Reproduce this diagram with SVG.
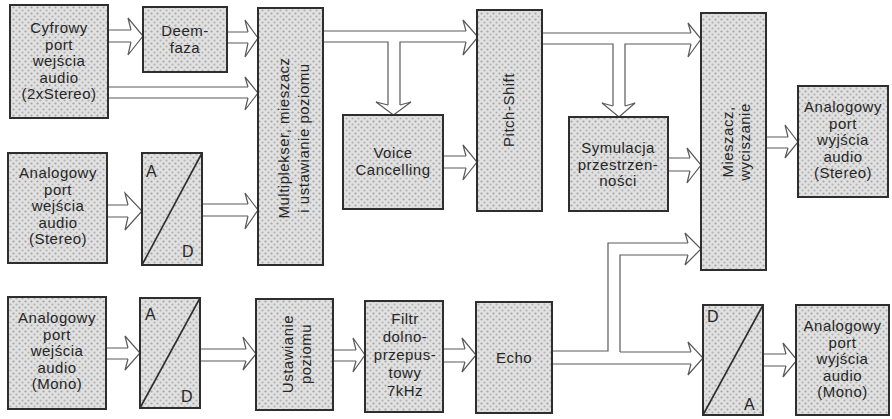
<svg xmlns="http://www.w3.org/2000/svg" width="892" height="419" viewBox="0 0 892 419">
<defs>
<pattern id="dots" width="6" height="6" patternUnits="userSpaceOnUse">
<rect width="6" height="6" fill="#e1e1e1"/>
<circle cx="1.5" cy="1.5" r="1.1" fill="#a5a5a5"/>
<circle cx="4.5" cy="4.5" r="1.1" fill="#b2b2b2"/>
</pattern>
<style>
.box{fill:url(#dots);stroke:#2e2e2e;stroke-width:2}
.diag{stroke:#2e2e2e;stroke-width:1.6;fill:none}
.t{font-family:"Liberation Sans",Arial,sans-serif;font-size:15px;letter-spacing:0.5px;fill:#262626;text-anchor:middle}
.l{font-family:"Liberation Sans",Arial,sans-serif;font-size:16px;fill:#262626}
.ln{stroke:#5a5a5a;stroke-width:1.2;fill:none}
.hd{stroke:#5a5a5a;stroke-width:1.2;fill:#fff;stroke-linejoin:miter}
</style>
</defs>
<rect width="892" height="419" fill="#fff"/>

<g id="connectors">
<path class="ln" d="M108,30H131M108,42H131"/>
<path class="hd" d="M131,30L128,18L143,36L128,55L131,42"/>
<path class="ln" d="M227,32H248M227,43H248"/>
<path class="hd" d="M248,32L245,20L258,38L245,57L248,43"/>
<path class="ln" d="M108,87H248M108,98H248"/>
<path class="hd" d="M248,87L245,77L258,93L245,110L248,98"/>
<path class="ln" d="M107,205H128M107,217H128"/>
<path class="hd" d="M128,205L125,193L142,211L125,230L128,217"/>
<path class="ln" d="M202,204H248M202,216H248"/>
<path class="hd" d="M248,204L245,193L258,210L245,229L248,216"/>
<path class="ln" d="M324,31H466M324,42H388V105M400,105V42H466"/>
<path class="hd" d="M466,31L463,20L478,37L463,55L466,42"/>
<path class="hd" d="M388,105L376,102L393.5,115L411,102L400,105"/>
<path class="ln" d="M443,156H466M443,168H466"/>
<path class="hd" d="M466,156L463,145L477,162L463,180L466,168"/>
<path class="ln" d="M542,33H691M542,44H613V106M625,106V44H691"/>
<path class="hd" d="M691,33L688,23L701,39L688,57L691,44"/>
<path class="hd" d="M613,106L602,103L619,117L635,103L625,106"/>
<path class="ln" d="M668,158H690M668,171H690"/>
<path class="hd" d="M690,158L687,148L701,165L687,183L690,171"/>
<path class="ln" d="M766,137H788M766,148H788"/>
<path class="hd" d="M788,137L785,125L798,142L785,158L788,148"/>
<path class="ln" d="M106,348H128M106,359H128"/>
<path class="hd" d="M128,348L125,336L140,353L125,370L128,359"/>
<path class="ln" d="M200,349H246M200,361H246"/>
<path class="hd" d="M246,349L243,337L256,354L243,370L246,361"/>
<path class="ln" d="M333,350H356M333,361H356"/>
<path class="hd" d="M356,350L353,338L365,355L353,372L356,361"/>
<path class="ln" d="M443,349H465M443,362H465"/>
<path class="hd" d="M465,349L462,338L476,355L462,372L465,362"/>
<path class="ln" d="M552,351H608V243H688M620,352V255H688M620,352H691M552,364H691"/>
<path class="hd" d="M688,243L685,233L701,249L685,265L688,255"/>
<path class="hd" d="M691,352L688,342L703,358L688,375L691,364"/>
<path class="ln" d="M763,354H786M763,366H786"/>
<path class="hd" d="M786,354L783,343L797,360L783,377L786,366"/>
</g>

<g id="cyfrowy">
<rect class="box" x="10" y="5" width="98" height="113"/>
<text class="t"><tspan x="59" y="33">Cyfrowy</tspan><tspan x="59" y="49.5">port</tspan><tspan x="59" y="66">wejścia</tspan><tspan x="59" y="82.5">audio</tspan><tspan x="59" y="99">(2xStereo)</tspan></text>
</g>
<g id="deemfaza">
<rect class="box" x="143" y="7" width="84" height="65"/>
<text class="t"><tspan x="185" y="36">Deem-</tspan><tspan x="185" y="52.5">faza</tspan></text>
</g>
<g id="multiplekser">
<rect class="box" x="258" y="8" width="65" height="257"/>
<text class="t" transform="translate(289,138) rotate(-90)"><tspan x="0" y="0">Multiplekser, mieszacz</tspan><tspan x="0" y="20">i ustawianie poziomu</tspan></text>
</g>
<g id="analog-stereo-in">
<rect class="box" x="8" y="153" width="99" height="110"/>
<text class="t"><tspan x="58" y="178">Analogowy</tspan><tspan x="58" y="194.5">port</tspan><tspan x="58" y="211">wejścia</tspan><tspan x="58" y="227.5">audio</tspan><tspan x="58" y="244">(Stereo)</tspan></text>
</g>
<g id="ad-stereo">
<rect class="box" x="142" y="153" width="60" height="112"/>
<line class="diag" x1="142" y1="265" x2="202" y2="153"/>
<text class="l" x="146" y="177">A</text>
<text class="l" x="182" y="257">D</text>
</g>
<g id="analog-mono-in">
<rect class="box" x="8" y="297" width="98" height="112"/>
<text class="t"><tspan x="57" y="323">Analogowy</tspan><tspan x="57" y="339.5">port</tspan><tspan x="57" y="356">wejścia</tspan><tspan x="57" y="372.5">audio</tspan><tspan x="57" y="389">(Mono)</tspan></text>
</g>
<g id="ad-mono">
<rect class="box" x="140" y="298" width="60" height="110"/>
<line class="diag" x1="140" y1="408" x2="200" y2="298"/>
<text class="l" x="145" y="320">A</text>
<text class="l" x="181" y="402">D</text>
</g>
<g id="ustawianie">
<rect class="box" x="256" y="299" width="77" height="111"/>
<text class="t" transform="translate(293,354) rotate(-90)"><tspan x="0" y="0">Ustawianie</tspan><tspan x="0" y="18">poziomu</tspan></text>
</g>
<g id="filtr">
<rect class="box" x="365" y="301" width="78" height="111"/>
<text class="t"><tspan x="405" y="324">Filtr</tspan><tspan x="405" y="342">dolno-</tspan><tspan x="405" y="360">przepus-</tspan><tspan x="405" y="378">towy</tspan><tspan x="405" y="396">7kHz</tspan></text>
</g>
<g id="echo">
<rect class="box" x="476" y="302" width="76" height="111"/>
<text class="t" x="514" y="363">Echo</text>
</g>
<g id="voice-cancelling">
<rect class="box" x="343" y="115" width="100" height="94"/>
<text class="t"><tspan x="393" y="158">Voice</tspan><tspan x="393" y="174.5">Cancelling</tspan></text>
</g>
<g id="pitch-shift">
<rect class="box" x="477" y="10" width="65" height="201"/>
<text class="t" transform="translate(514,110) rotate(-90)">Pitch-Shift</text>
</g>
<g id="symulacja">
<rect class="box" x="569" y="117" width="99" height="94"/>
<text class="t"><tspan x="618" y="153">Symulacja</tspan><tspan x="618" y="169.5">przestrzen-</tspan><tspan x="618" y="186">ności</tspan></text>
</g>
<g id="mieszacz">
<rect class="box" x="701" y="13" width="65" height="257"/>
<text class="t" transform="translate(733,142) rotate(-90)"><tspan x="0" y="0">Mieszacz,</tspan><tspan x="0" y="17">wyciszanie</tspan></text>
</g>
<g id="analog-stereo-out">
<rect class="box" x="798" y="86" width="90" height="111"/>
<text class="t"><tspan x="843" y="112">Analogowy</tspan><tspan x="843" y="128.5">port</tspan><tspan x="843" y="145">wyjścia</tspan><tspan x="843" y="161.5">audio</tspan><tspan x="843" y="178">(Stereo)</tspan></text>
</g>
<g id="da-mono">
<rect class="box" x="703" y="305" width="60" height="110"/>
<line class="diag" x1="703" y1="415" x2="763" y2="305"/>
<text class="l" x="707" y="322">D</text>
<text class="l" x="744" y="410">A</text>
</g>
<g id="analog-mono-out">
<rect class="box" x="796" y="305" width="93" height="110"/>
<text class="t"><tspan x="842.5" y="331">Analogowy</tspan><tspan x="842.5" y="347.5">port</tspan><tspan x="842.5" y="364">wyjścia</tspan><tspan x="842.5" y="380.5">audio</tspan><tspan x="842.5" y="397">(Mono)</tspan></text>
</g>
</svg>
